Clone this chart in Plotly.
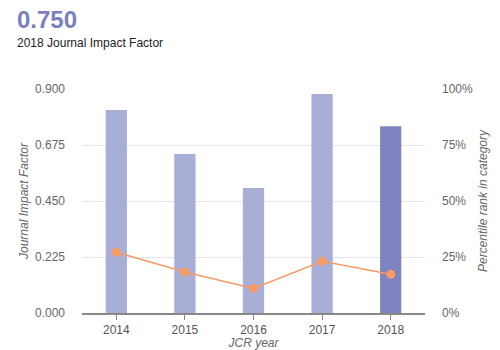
import plotly.graph_objects as go

years = ["2014", "2015", "2016", "2017", "2018"]
jif = [0.816, 0.639, 0.502, 0.880, 0.750]
percentile = [27.1, 18.3, 11.0, 23.1, 17.3]
bar_colors = ["#a9aed6", "#a9aed6", "#a9aed6", "#a9aed6", "#7e84bf"]

font_family = "Liberation Sans, Arial, sans-serif"

fig = go.Figure()
fig.add_trace(go.Bar(x=years, y=jif, marker=dict(color=bar_colors, line=dict(width=0)),
                     width=0.31, yaxis="y", showlegend=False, hoverinfo="skip"))
fig.add_trace(go.Scatter(x=years, y=percentile, mode="lines+markers", yaxis="y2",
                         line=dict(color="#f79a65", width=1.5),
                         marker=dict(color="#f79a65", size=9), showlegend=False))

fig.update_layout(
    width=500, height=350,
    margin=dict(l=82, r=75, t=89, b=37),
    paper_bgcolor="white", plot_bgcolor="white",
    font=dict(family=font_family, size=12, color="#666666"),
    xaxis=dict(type="category", range=[-0.5, 4.5], showline=True, linecolor="#888888",
               linewidth=2, ticks="outside", ticklen=5, tickcolor="#888888",
               showgrid=False, tickfont=dict(size=12, color="#555555"), automargin=False,
               title=dict(text="<i>JCR year</i>", font=dict(size=12, color="#666666"), standoff=2)),
    yaxis=dict(range=[0, 0.9], tickvals=[0, 0.225, 0.45, 0.675, 0.9],
               ticktext=["0.000", "0.225", "0.450", "0.675", "0.900"],
               gridcolor="#e3e3f1", gridwidth=1, zeroline=False, showline=False, automargin=False,
               tickfont=dict(size=12, color="#666666"), ticks="", ticklabelstandoff=16,
               title=dict(text="<i>Journal Impact Factor</i>", font=dict(size=12, color="#666666"), standoff=3)),
    yaxis2=dict(range=[0, 100], tickvals=[0, 25, 50, 75, 100],
                ticktext=["0%", "25%", "50%", "75%", "100%"], overlaying="y", side="right",
                showgrid=False, zeroline=False, showline=False, ticks="", ticklabelstandoff=16,
                tickfont=dict(size=12, color="#666666"), automargin=False,
                title=dict(text="<i>Percentile rank in category</i>", font=dict(size=12, color="#666666"), standoff=6)),
)
fig.add_annotation(text="<b>0.750</b>", xref="paper", yref="paper",
                   x=-67/343, y=1 + (89-4)/224, xanchor="left", yanchor="top",
                   showarrow=False, font=dict(size=24, color="#7a80be", family=font_family))
fig.add_annotation(text="2018 Journal Impact Factor", xref="paper", yref="paper",
                   x=-67/343, y=1 + (89-34)/224, xanchor="left", yanchor="top",
                   showarrow=False, font=dict(size=12, color="#222222", family=font_family))

fig.write_html("out.html")
